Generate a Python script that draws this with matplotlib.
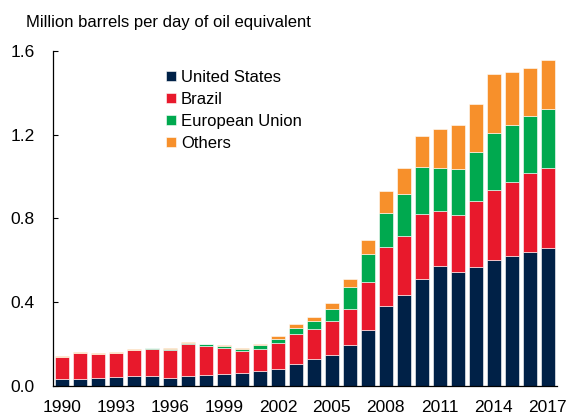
import matplotlib
matplotlib.use("Agg")
from matplotlib import pyplot as plt
import numpy as np

plt.rcParams['font.family'] = ['Liberation Sans', 'DejaVu Sans']

years = list(range(1990, 2018))
united_states = [0.031, 0.033, 0.038, 0.043, 0.048, 0.049, 0.037, 0.048, 0.054, 0.055,
                 0.064, 0.070, 0.080, 0.105, 0.128, 0.150, 0.194, 0.268, 0.382, 0.435,
                 0.513, 0.572, 0.544, 0.568, 0.604, 0.621, 0.640, 0.659]
brazil = [0.107, 0.125, 0.115, 0.113, 0.124, 0.126, 0.136, 0.152, 0.137, 0.128,
          0.102, 0.107, 0.124, 0.143, 0.143, 0.158, 0.174, 0.228, 0.282, 0.281,
          0.310, 0.264, 0.274, 0.317, 0.333, 0.355, 0.377, 0.384]
european_union = [0.000, 0.000, 0.000, 0.000, 0.001, 0.006, 0.005, 0.007, 0.008, 0.008,
                  0.011, 0.017, 0.020, 0.029, 0.040, 0.062, 0.105, 0.134, 0.164, 0.202,
                  0.223, 0.205, 0.218, 0.234, 0.271, 0.272, 0.271, 0.278]
others = [0.005, 0.003, 0.003, 0.005, 0.002, 0.002, 0.005, 0.003, 0.003, 0.003,
          0.006, 0.008, 0.013, 0.018, 0.019, 0.024, 0.040, 0.065, 0.101, 0.122,
          0.150, 0.185, 0.210, 0.230, 0.281, 0.253, 0.229, 0.236]

series = [
    ("United States", united_states, "#002147"),
    ("Brazil", brazil, "#E8192C"),
    ("European Union", european_union, "#00A94F"),
    ("Others", others, "#F7902B"),
]

fig = plt.figure(figsize=(5.73, 4.19), dpi=100)
ax = fig.add_axes([0.0925, 0.0788, 0.8791, 0.7995])

bottom = np.zeros(len(years))
for name, vals, color in series:
    ax.bar(years, vals, width=0.76, bottom=bottom, color=color, label=name,
           edgecolor="white", linewidth=0.4)
    bottom += np.array(vals)

ax.set_xlim(1989.5, 2017.5)
ax.set_ylim(0, 1.6)
ax.set_yticks([0.0, 0.4, 0.8, 1.2, 1.6])
ax.set_yticklabels(["0.0", "0.4", "0.8", "1.2", "1.6"])
ax.set_xticks(years[::3])
ax.set_xticklabels([str(y) for y in years[::3]])

ax.tick_params(axis="y", direction="in", length=3.6, width=0.8, pad=13, labelsize=12.5)
ax.tick_params(axis="x", length=0, pad=10, labelsize=12.5)

for side in ["top", "right"]:
    ax.spines[side].set_visible(False)
for side in ["left", "bottom"]:
    ax.spines[side].set_linewidth(0.9)

fig.text(26 / 573, 1 - 23 / 419, "Million barrels per day of oil equivalent",
         fontsize=12, va="center", ha="left")

ax.legend(loc="upper left", bbox_to_anchor=(166 / 573, 1 - 70 / 419),
          bbox_transform=fig.transFigure, frameon=False, fontsize=12,
          handlelength=0.6, handleheight=0.6, handletextpad=0.3,
          labelspacing=0.42, borderpad=0, borderaxespad=0)

fig.savefig("out.png", dpi=100)
